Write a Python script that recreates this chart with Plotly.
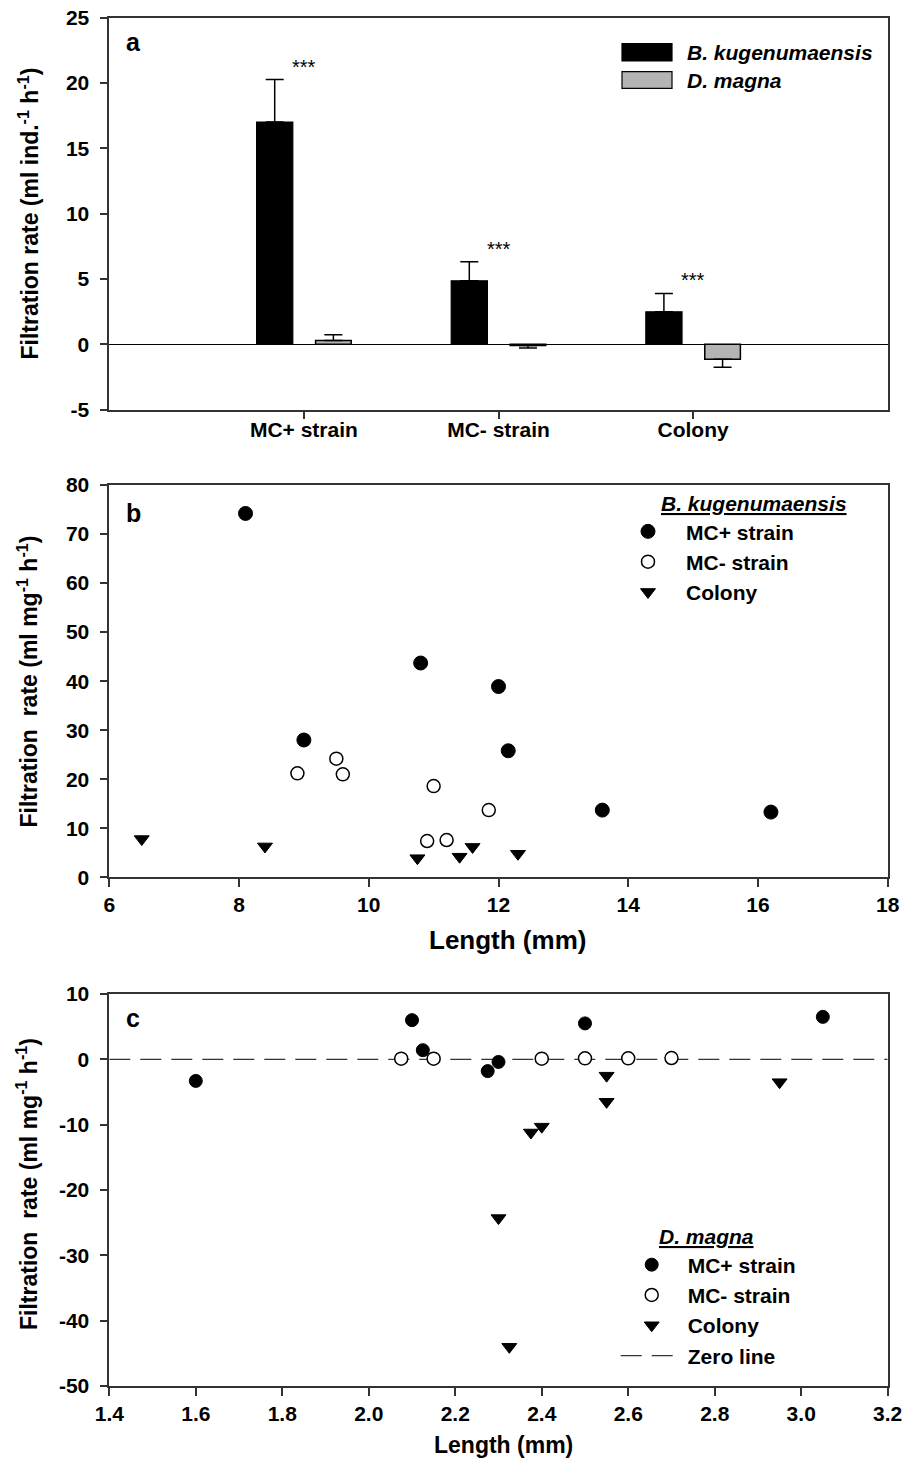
import plotly.graph_objects as go

W, H = 913, 1460
FONT = "Liberation Sans, Arial, sans-serif"
AX = "#333333"

# ---------------- Panel a data ----------------
categories = ["MC+ strain", "MC- strain", "Colony"]
bk_mean = [17.0, 4.85, 2.48]
bk_se = [3.25, 1.45, 1.4]
dm_mean = [0.28, -0.1, -1.15]
dm_se = [0.44, 0.2, 0.62]
sig_labels = ["***", "***", "***"]
a_yticks = [-5, 0, 5, 10, 15, 20, 25]

# ---------------- Panel b data (B. kugenumaensis) ----------------
b_mcp_len = [8.1, 9.0, 10.8, 12.0, 12.15, 13.6, 16.2]
b_mcp_fr = [74.2, 28.0, 43.7, 38.9, 25.8, 13.7, 13.3]
b_mcm_len = [8.9, 9.5, 9.6, 10.9, 11.0, 11.2, 11.85]
b_mcm_fr = [21.2, 24.2, 21.0, 7.4, 18.6, 7.6, 13.7]
b_col_len = [6.5, 8.4, 10.75, 11.4, 11.6, 12.3]
b_col_fr = [7.8, 6.3, 3.9, 4.2, 6.2, 4.8]
b_xticks = [6, 8, 10, 12, 14, 16, 18]
b_yticks = [0, 10, 20, 30, 40, 50, 60, 70, 80]

# ---------------- Panel c data (D. magna) ----------------
c_mcp_len = [1.6, 2.1, 2.125, 2.275, 2.3, 2.5, 3.05]
c_mcp_fr = [-3.3, 6.0, 1.4, -1.8, -0.4, 5.5, 6.5]
c_mcm_len = [2.075, 2.15, 2.4, 2.5, 2.6, 2.7]
c_mcm_fr = [0.1, 0.1, 0.1, 0.15, 0.15, 0.2]
c_col_len = [2.55, 2.55, 2.375, 2.4, 2.3, 2.325, 2.95]
c_col_fr = [-2.5, -6.5, -11.2, -10.3, -24.3, -44.0, -3.5]
c_xticks = [1.4, 1.6, 1.8, 2.0, 2.2, 2.4, 2.6, 2.8, 3.0, 3.2]
c_yticks = [-50, -40, -30, -20, -10, 0, 10]


def px(x):
    return x / W


def py(y):
    return 1 - y / H


def fmt_tick(v, nd=0):
    return f"{v:.{nd}f}"


fig = go.Figure()

# ---- panel a bars ----
bk_plus = [e if m >= 0 else 0 for m, e in zip(bk_mean, bk_se)]
bk_minus = [e if m < 0 else 0 for m, e in zip(bk_mean, bk_se)]
dm_plus = [e if m >= 0 else 0 for m, e in zip(dm_mean, dm_se)]
dm_minus = [e if m < 0 else 0 for m, e in zip(dm_mean, dm_se)]

fig.add_trace(go.Bar(
    x=categories, y=bk_mean, name="B. kugenumaensis",
    width=0.186, offset=-0.243,
    marker=dict(color="black", line=dict(color="black", width=1.2)),
    error_y=dict(type="data", array=bk_plus, arrayminus=bk_minus, symmetric=False,
                 color="black", thickness=1.5, width=9),
    xaxis="x", yaxis="y", showlegend=False))
fig.add_trace(go.Bar(
    x=categories, y=dm_mean, name="D. magna",
    width=0.183, offset=0.06,
    marker=dict(color="#b4b4b4", line=dict(color="black", width=1.5)),
    error_y=dict(type="data", array=dm_plus, arrayminus=dm_minus, symmetric=False,
                 color="black", thickness=1.5, width=9),
    xaxis="x", yaxis="y", showlegend=False))

# ---- panel b scatter ----
fig.add_trace(go.Scatter(x=b_mcp_len, y=b_mcp_fr, mode="markers", name="MC+ strain",
                         marker=dict(symbol="circle", size=14, color="black",
                                     line=dict(color="black", width=1)),
                         xaxis="x2", yaxis="y2", legend="legend"))
fig.add_trace(go.Scatter(x=b_mcm_len, y=b_mcm_fr, mode="markers", name="MC- strain",
                         marker=dict(symbol="circle", size=13, color="white",
                                     line=dict(color="black", width=1.5)),
                         xaxis="x2", yaxis="y2", legend="legend"))
fig.add_trace(go.Scatter(x=b_col_len, y=b_col_fr, mode="markers", name="Colony",
                         marker=dict(symbol="triangle-down", size=13, color="black",
                                     line=dict(color="black", width=1)),
                         xaxis="x2", yaxis="y2", legend="legend"))

# ---- panel c ----
c_range = [c_xticks[0], c_xticks[-1]]
fig.add_trace(go.Scatter(x=c_range, y=[0, 0], mode="lines", name="Zero line",
                         line=dict(color=AX, width=1.2, dash="21px,10px"),
                         xaxis="x3", yaxis="y3", legend="legend2", legendrank=4))
fig.add_trace(go.Scatter(x=c_mcp_len, y=c_mcp_fr, mode="markers", name="MC+ strain",
                         marker=dict(symbol="circle", size=13, color="black",
                                     line=dict(color="black", width=1)),
                         xaxis="x3", yaxis="y3", legend="legend2", legendrank=1))
fig.add_trace(go.Scatter(x=c_mcm_len, y=c_mcm_fr, mode="markers", name="MC- strain",
                         marker=dict(symbol="circle", size=13, color="white",
                                     line=dict(color="black", width=1.5)),
                         xaxis="x3", yaxis="y3", legend="legend2", legendrank=2))
fig.add_trace(go.Scatter(x=c_col_len, y=c_col_fr, mode="markers", name="Colony",
                         marker=dict(symbol="triangle-down", size=13, color="black",
                                     line=dict(color="black", width=1)),
                         xaxis="x3", yaxis="y3", legend="legend2", legendrank=3))

tickfont = dict(family=FONT, size=21, color="black", weight="bold")
common = dict(showline=True, linecolor=AX, linewidth=1.6, mirror=True,
              ticks="outside", ticklen=8, tickwidth=1.5, tickcolor=AX,
              tickfont=tickfont, showgrid=False, automargin=False)

xdom = [px(109.3), px(887.7)]

fig.update_layout(
    width=W, height=H,
    margin=dict(l=0, r=0, t=0, b=0, autoexpand=False),
    paper_bgcolor="white", plot_bgcolor="white",
    font=dict(family=FONT, color="black"),
    barmode="overlay",
    xaxis=dict(domain=xdom, anchor="y", type="category", range=[-1, 3],
               zeroline=False, ticklabelstandoff=-8, **common),
    yaxis=dict(domain=[py(409.5), py(17.5)], anchor="x", range=[-5, 25],
               tickvals=a_yticks, ticktext=[fmt_tick(v) for v in a_yticks],
               ticklabelstandoff=6,
               zeroline=True, zerolinecolor="black", zerolinewidth=1.2, **common),
    xaxis2=dict(domain=xdom, anchor="y2", range=[b_xticks[0], b_xticks[-1]],
                tickvals=b_xticks, ticktext=[fmt_tick(v) for v in b_xticks],
                zeroline=False, **common),
    yaxis2=dict(domain=[py(877.3), py(485)], anchor="x2", range=[b_yticks[0], b_yticks[-1]],
                tickvals=b_yticks, ticktext=[fmt_tick(v) for v in b_yticks],
                ticklabelstandoff=6, zeroline=False, **common),
    xaxis3=dict(domain=xdom, anchor="y3", range=c_range,
                tickvals=c_xticks, ticktext=[fmt_tick(v, 1) for v in c_xticks],
                zeroline=False, **common),
    yaxis3=dict(domain=[py(1386), py(994)], anchor="x3", range=[c_yticks[0], c_yticks[-1]],
                tickvals=c_yticks, ticktext=[fmt_tick(v) for v in c_yticks],
                ticklabelstandoff=6, zeroline=False, **common),
    legend=dict(x=px(610), y=py(511.2), xanchor="left", yanchor="top",
                bgcolor="rgba(0,0,0,0)", borderwidth=0, itemwidth=66,
                font=dict(family=FONT, size=21, color="black", weight="bold"),
                tracegroupgap=0),
    legend2=dict(x=px(615.7), y=py(1244.5), xanchor="left", yanchor="top",
                 bgcolor="rgba(0,0,0,0)", borderwidth=0, itemwidth=62,
                 font=dict(family=FONT, size=21, color="black", weight="bold"),
                 tracegroupgap=0, traceorder="normal"),
    showlegend=True,
)

ann = []
bold = dict(family=FONT, color="black", weight="bold")
# panel letters
for lab, yy in [("a", 41.7), ("b", 513), ("c", 1017.7)]:
    ann.append(dict(text=lab, x=px(133), y=py(yy), xref="paper", yref="paper",
                    xanchor="center", yanchor="middle", showarrow=False,
                    font=dict(size=25, **bold)))
# y titles
ann.append(dict(text="Filtration rate (ml ind.<sup>-1</sup> h<sup>-1</sup>)",
                x=px(28), y=py(213.5), xref="paper", yref="paper", textangle=-90,
                xanchor="center", yanchor="middle", showarrow=False,
                font=dict(size=23, **bold)))
ann.append(dict(text="Filtration\u00a0 rate (ml mg<sup>-1</sup> h<sup>-1</sup>)",
                x=px(27), y=py(681.5), xref="paper", yref="paper", textangle=-90,
                xanchor="center", yanchor="middle", showarrow=False,
                font=dict(size=23, **bold)))
ann.append(dict(text="Filtration\u00a0 rate (ml mg<sup>-1</sup> h<sup>-1</sup>)",
                x=px(27), y=py(1184), xref="paper", yref="paper", textangle=-90,
                xanchor="center", yanchor="middle", showarrow=False,
                font=dict(size=23, **bold)))
# x titles
ann.append(dict(text="Length (mm)", x=px(508), y=py(940), xref="paper", yref="paper",
                xanchor="center", yanchor="middle", showarrow=False,
                font=dict(size=26, **bold)))
ann.append(dict(text="Length (mm)", x=px(503), y=py(1445), xref="paper", yref="paper",
                xanchor="center", yanchor="middle", showarrow=False,
                font=dict(size=23, **bold)))
# significance stars
for cat, m, e, s in zip(categories, bk_mean, bk_se, sig_labels):
    ann.append(dict(text=s, x=cat, y=m + e, xref="x", yref="y",
                    xanchor="center", yanchor="bottom", showarrow=False,
                    font=dict(family=FONT, size=20, color="black")))
# panel a custom legend
ann.append(dict(text="<i>B. kugenumaensis</i>", x=px(685), y=py(52.5), xref="paper", yref="paper",
                xanchor="left", yanchor="middle", showarrow=False, font=dict(size=21, **bold)))
ann.append(dict(text="<i>D. magna</i>", x=px(685), y=py(80), xref="paper", yref="paper",
                xanchor="left", yanchor="middle", showarrow=False, font=dict(size=21, **bold)))
# legend titles b, c
ann.append(dict(text="<u><i>B. kugenumaensis</i></u>", x=px(754), y=py(503), xref="paper", yref="paper",
                xanchor="center", yanchor="middle", showarrow=False, font=dict(size=21, **bold)))
ann.append(dict(text="<u><i>D. magna</i></u>", x=px(706), y=py(1236), xref="paper", yref="paper",
                xanchor="center", yanchor="middle", showarrow=False, font=dict(size=21, **bold)))
fig.update_layout(annotations=ann)

shapes = [
    dict(type="rect", xref="paper", yref="paper", x0=px(622), x1=px(672), y0=py(61), y1=py(43.7),
         fillcolor="black", line=dict(color="black", width=1.2)),
    dict(type="rect", xref="paper", yref="paper", x0=px(622), x1=px(672), y0=py(88.3), y1=py(71.7),
         fillcolor="#b4b4b4", line=dict(color="black", width=1.2)),
]
fig.update_layout(shapes=shapes)

fig.write_html("out.html", config={"displayModeBar": False},
               post_script="document.body.style.margin='0';document.body.style.overflow='hidden';")
